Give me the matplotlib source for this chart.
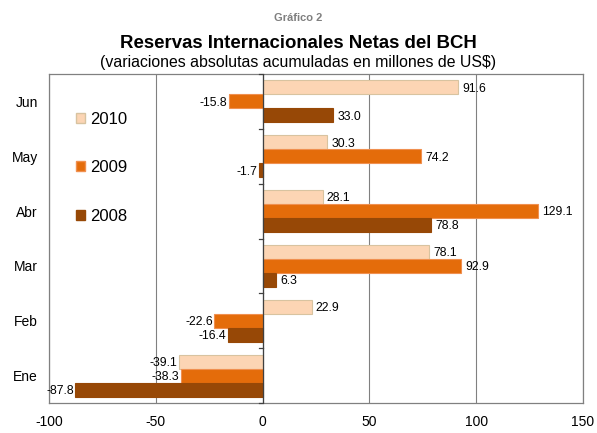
import numpy as np
import matplotlib.pyplot as plt
from matplotlib.patches import Patch

plt.rcParams['font.family'] = ['Liberation Sans', 'DejaVu Sans']
plt.rcParams['axes.unicode_minus'] = False

months = ["Ene", "Feb", "Mar", "Abr", "May", "Jun"]
years = ["2010", "2009", "2008"]
v2010 = [-39.1, 22.9, 78.1, 28.1, 30.3, 91.6]
v2009 = [-38.3, -22.6, 92.9, 129.1, 74.2, -15.8]
v2008 = [-87.8, -16.4, 6.3, 78.8, -1.7, 33.0]

colors = ["#FCD5B4", "#E46C0A", "#974806"]
edges = ["#D8C3A0", "#F09050", "#974806"]

fig = plt.figure(figsize=(5.97, 4.33), dpi=100)
ax = fig.add_axes([49 / 597, 30 / 433, 534 / 597, 329 / 433])

y = np.arange(len(months))
h = 0.255
offsets = [h, 0, -h]
for vals, off, c, e, lab in zip([v2010, v2009, v2008], offsets, colors, edges, years):
    ax.barh(y + off, vals, height=h, color=c, edgecolor=e, linewidth=0.8, label=lab, zorder=3)
    for yi, v in zip(y, vals):
        if v >= 0:
            ax.annotate(f"{v:.1f}", (v, yi + off), xytext=(3, -1), textcoords="offset points",
                        ha="left", va="center", fontsize=8.8)
        else:
            ax.annotate(f"{v:.1f}", (v, yi + off), xytext=(-1, -1), textcoords="offset points",
                        ha="right", va="center", fontsize=8.8)

ax.set_xlim(-100, 150)
ax.set_ylim(-0.5, len(months) - 0.5)
ax.set_xticks([-100, -50, 0, 50, 100, 150])
ax.set_yticks(y)
ax.set_yticklabels(months)
ax.tick_params(axis="both", length=0, labelsize=10)
ax.tick_params(axis="y", pad=8)
ax.tick_params(axis="x", pad=9)
ax.grid(axis="x", color="#808080", linewidth=0.8, zorder=0)
for s in ax.spines.values():
    s.set_color("#808080")
    s.set_linewidth(0.9)

# zero axis with category separators
ax.axvline(0, color="#404040", linewidth=0.9, zorder=4)
for b in np.arange(-0.5, len(months), 1.0):
    ax.plot([-1.8, 0], [b, b], color="#404040", linewidth=0.9, zorder=4, clip_on=False)

handles = [Patch(facecolor=c, edgecolor=e, label=l) for c, e, l in zip(colors, edges, years)]
ax.legend(handles=handles, loc="upper left", bbox_to_anchor=(0.022, 0.93), frameon=False,
          fontsize=12, labelspacing=2.0, handlelength=0.55, handleheight=0.55, handletextpad=0.3)

fig.text(0.5, 415 / 433, "Gráfico 2", ha="center", va="center", fontsize=8,
         fontweight="bold", color="#7F7F7F")
fig.text(0.5, 389 / 433, "Reservas Internacionales Netas del BCH", ha="center", va="center",
         fontsize=13.4, fontweight="bold")
fig.text(0.5, 370 / 433, "(variaciones absolutas acumuladas en millones de US$)", ha="center",
         va="center", fontsize=11.4)

fig.savefig("out.png", dpi=100)
